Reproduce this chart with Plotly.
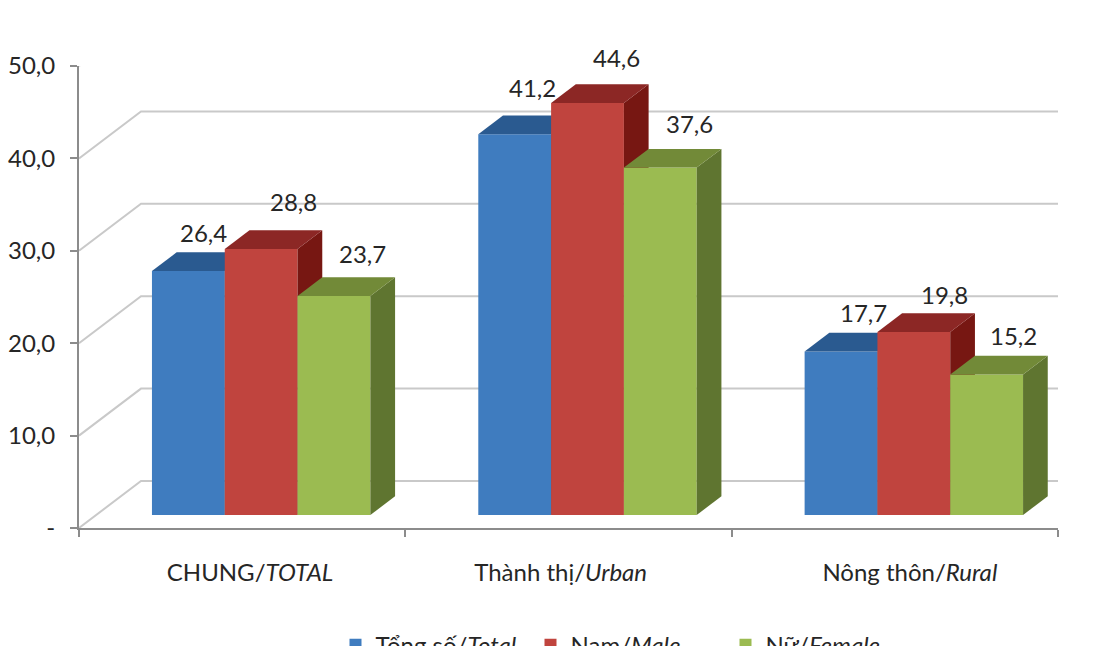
import plotly.graph_objects as go

# Chart data
categories = ["CHUNG/<i>TOTAL</i>", "Thành thị/<i>Urban</i>", "Nông thôn/<i>Rural</i>"]
series_names = ["Tổng số/<i>Total</i>", "Nam/<i>Male</i>", "Nữ/<i>Female</i>"]
total_values = [26.4, 41.2, 17.7]
male_values = [28.8, 44.6, 19.8]
female_values = [23.7, 37.6, 15.2]
y_ticks = [0, 10, 20, 30, 40, 50]
y_tick_labels = ["-", "10,0", "20,0", "30,0", "40,0", "50,0"]

# Colours per series: front, top and side faces
front_colors = ["#3f7cbf", "#c0443e", "#9bbb51"]
top_colors = ["#2a5a90", "#8c2725", "#728a38"]
side_colors = ["#23507f", "#771712", "#5f7530"]
INK = "#262626"
FONT = "Lato"

# Projection of the oblique view, in axis units
PX_X = 326.3
PX_Y = 9.24
WALL_DX, WALL_DY = 62 / PX_X, 47 / PX_Y
BAR_DX, BAR_DY = 24.7 / PX_X, 18.7 / PX_Y
BAR_BASE = 13 / PX_Y
BAR_WIDTH = 72.8 / PX_X
GROUP_SHIFT = 19 / PX_X
WALL_RIGHT = 2.75

# Label placement around each bar, in pixels
label_dx = [[15, 32, 29], [18, 29, 29], [22, 31, 27]]
label_dy = [[39, 47, 43], [47, 45, 44], [39, 38, 39]]
category_tick_pos = [0.024, -0.024, 0.046]

fig = go.Figure()

# Floor and back wall lines
for tick in y_ticks:
    fig.add_trace(go.Scatter(
        x=[-0.5, -0.5 + WALL_DX, WALL_RIGHT],
        y=[tick, tick + WALL_DY, tick + WALL_DY],
        mode="lines", line=dict(color="#c9c9c9", width=2),
        hoverinfo="skip", showlegend=False, cliponaxis=False,
    ))

all_values = [total_values, male_values, female_values]
annotations = []
for s, (name, values) in enumerate(zip(series_names, all_values)):
    axis_n = s + 2
    xa, ya = f"x{axis_n}", f"y{axis_n}"
    centers = [c + GROUP_SHIFT + (s - 1) * BAR_WIDTH for c in range(len(categories))]
    for center, value in zip(centers, values):
        right = center + BAR_WIDTH / 2
        left = center - BAR_WIDTH / 2
        top = value + BAR_BASE
        # Side face
        fig.add_trace(go.Scatter(
            x=[right, right + BAR_DX, right + BAR_DX, right, right],
            y=[BAR_BASE, BAR_BASE + BAR_DY, top + BAR_DY, top, BAR_BASE],
            xaxis=xa, yaxis=ya, mode="lines", line=dict(width=0),
            fill="toself", fillcolor=side_colors[s],
            hoverinfo="skip", showlegend=False, cliponaxis=False,
        ))
        # Top face
        fig.add_trace(go.Scatter(
            x=[left, left + BAR_DX, right + BAR_DX, right, left],
            y=[top, top + BAR_DY, top + BAR_DY, top, top],
            xaxis=xa, yaxis=ya, mode="lines", line=dict(width=0),
            fill="toself", fillcolor=top_colors[s],
            hoverinfo="skip", showlegend=False, cliponaxis=False,
        ))
    # Front faces
    fig.add_trace(go.Bar(
        x=centers, y=values, base=BAR_BASE, width=BAR_WIDTH, name=name,
        xaxis=xa, yaxis=ya, marker=dict(color=front_colors[s], line=dict(width=0)),
    ))
    for c, (center, value) in enumerate(zip(centers, values)):
        annotations.append(dict(
            x=center, y=value + BAR_BASE, xref="x", yref="y",
            text=f"{value:.1f}".replace(".", ","), showarrow=False,
            xshift=label_dx[c][s], yshift=label_dy[c][s],
            xanchor="center", yanchor="middle",
            font=dict(family=FONT, size=24, color=INK),
        ))

# Axis baseline ends at the last category edge; the back wall runs past it
fig.update_layout(
    width=1110, height=646, autosize=False,
    margin=dict(l=79, r=52, t=66, b=118, pad=0, autoexpand=False),
    paper_bgcolor="white", plot_bgcolor="rgba(0,0,0,0)",
    barmode="overlay",
    font=dict(family=FONT, size=24, color=INK),
    annotations=annotations,
    legend=dict(
        orientation="h", x=0.262, xanchor="left", y=-0.205, yanchor="top",
        font=dict(family=FONT, size=24, color=INK),
        entrywidth=150, entrywidthmode="pixels", bgcolor="rgba(0,0,0,0)",
        traceorder="normal",
    ),
    xaxis=dict(
        range=[-0.5, 2.5], showgrid=False, zeroline=False,
        tickvals=[i + d for i, d in enumerate(category_tick_pos)], ticktext=categories,
        ticks="", ticklabelstandoff=22,
        showline=True, linecolor="#8c8c8c", linewidth=2,
        minor=dict(tickvals=[-0.5, 0.5, 1.5, 2.5], ticks="outside", ticklen=7,
                   tickwidth=2, tickcolor="#8c8c8c"),
    ),
    yaxis=dict(
        range=[0, 50], showgrid=False, zeroline=False,
        tickvals=y_ticks, ticktext=y_tick_labels,
        ticks="outside", ticklen=7, tickwidth=2, tickcolor="#8c8c8c",
        ticklabelstandoff=10,
        showline=True, linecolor="#8c8c8c", linewidth=2,
    ),
)

# One overlay axis pair per series keeps the bars stacked left to right in depth
for n in (2, 3, 4):
    fig.update_layout({
        f"xaxis{n}": dict(overlaying="x", matches="x", visible=False),
        f"yaxis{n}": dict(overlaying="y", matches="y", visible=False),
    })

fig.write_html("out.html", config=dict(displayModeBar=False))
